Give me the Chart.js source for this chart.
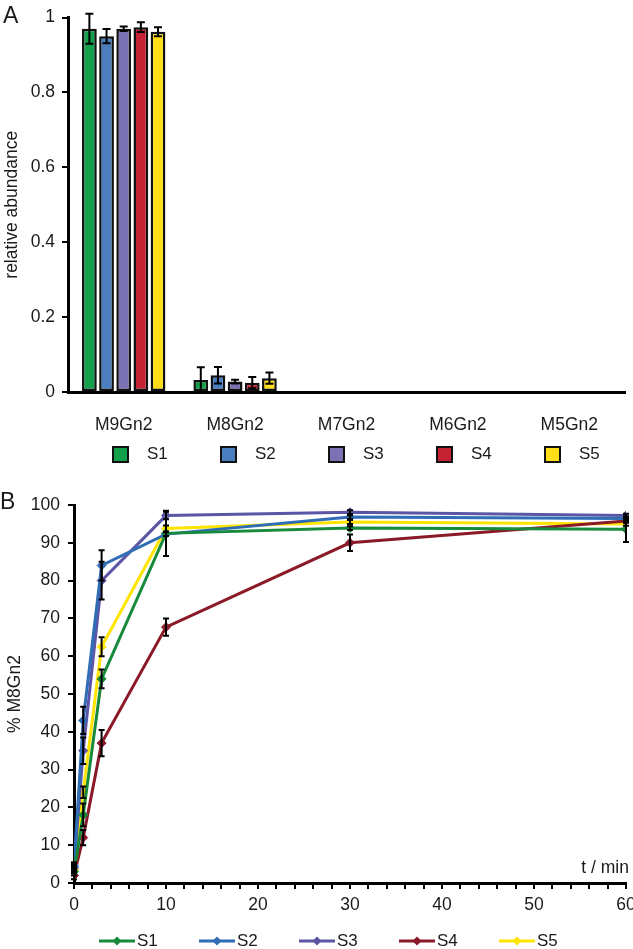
<!DOCTYPE html>
<html><head><meta charset="utf-8">
<script src="https://cdn.jsdelivr.net/npm/chart.js@4.4.1/dist/chart.umd.min.js"></script>
<style>
html,body{margin:0;padding:0;background:#fff;}
body{width:633px;height:949px;position:relative;overflow:hidden;font-family:"Liberation Sans",Arial,sans-serif;color:#1a1a1a;}
canvas{position:absolute;left:0;}
#ca{top:0;}
#cb{top:475px;}
.lbl{position:absolute;font-size:23px;line-height:1;}
.leg{position:absolute;display:flex;align-items:center;font-size:17px;line-height:20px;}
.leg .it{display:flex;align-items:center;}
</style></head>
<body>
<canvas id="ca" width="633" height="475"></canvas>
<canvas id="cb" width="633" height="474"></canvas>
<div class="lbl" style="left:3px;top:4px;">A</div>
<div class="lbl" style="left:0px;top:490px;">B</div>
<div id="legA" class="leg" style="left:112px;top:444px;"></div>
<div id="legB" class="leg" style="left:99px;top:931px;"></div>
<div id="tmin" style="position:absolute;right:4px;top:857px;font-size:17.5px;">t / min</div>
<script>
// ---------- data ----------
const seriesNames = ['S1', 'S2', 'S3', 'S4', 'S5'];
const glycans = ['M9Gn2', 'M8Gn2', 'M7Gn2', 'M6Gn2', 'M5Gn2'];
const yTicksA = [0, 0.2, 0.4, 0.6, 0.8, 1];
const yTickLabelsA = ['0', '0.2', '0.4', '0.6', '0.8', '1'];

const abundS1 = [0.970, 0.032, 0, 0, 0];
const abundS2 = [0.950, 0.045, 0, 0, 0];
const abundS3 = [0.970, 0.028, 0, 0, 0];
const abundS4 = [0.974, 0.025, 0, 0, 0];
const abundS5 = [0.962, 0.037, 0, 0, 0];
const abundErrS1 = [0.040, 0.034, 0, 0, 0];
const abundErrS2 = [0.019, 0.022, 0, 0, 0];
const abundErrS3 = [0.006, 0.005, 0, 0, 0];
const abundErrS4 = [0.013, 0.015, 0, 0, 0];
const abundErrS5 = [0.012, 0.015, 0, 0, 0];

const times = [0, 1, 3, 10, 30, 60];
const pctS1 = [3.0, 18, 54, 92.5, 93.9, 93.6];
const pctS2 = [4.5, 43, 84, 92.3, 96.8, 96.4];
const pctS3 = [4.0, 35, 80, 97.2, 98.1, 97.2];
const pctS4 = [2.0, 12, 37, 67.7, 90.0, 95.8];
const pctS5 = [3.5, 24, 62.5, 93.8, 95.5, 95.0];
const pctErrS1 = [1, 3, 2.5, 6, 0.5, 3.4];
const pctErrS2 = [1, 3.6, 4, 0.5, 0.5, 0.5];
const pctErrS3 = [1, 3.5, 5, 1, 0.5, 0.5];
const pctErrS4 = [1, 2, 3.5, 2.3, 2.2, 0.5];
const pctErrS5 = [1, 1.5, 2.5, 0.8, 0.5, 0.5];

// ---------- styles ----------
const barColors = ['#12a04b', '#4a7ebf', '#7a72b3', '#c52233', '#ffde17'];
const lineColors = ['#178a3c', '#2f6db5', '#5b55a6', '#8b1a28', '#ffe400'];
const FONT = {family: '"Liberation Sans", Arial, sans-serif', size: 17.5};
const TXT = '#1a1a1a';

const errorBars = {
  id: 'errorBars',
  afterDatasetsDraw(chart, args, opts) {
    const ctx = chart.ctx;
    const ys = chart.scales.y;
    ctx.save();
    ctx.strokeStyle = '#000';
    ctx.lineWidth = opts.width || 2;
    chart.data.datasets.forEach((ds, di) => {
      if (!ds.errors) return;
      const meta = chart.getDatasetMeta(di);
      meta.data.forEach((el, i) => {
        const e = ds.errors[i];
        if (!e) return;
        const d = ds.data[i];
        const v = (typeof d === 'object') ? d.y : d;
        const top = ys.getPixelForValue(Math.min(v + e, ys.max + (opts.over || 0)));
        const bot = ys.getPixelForValue(Math.max(v - e, ys.min));
        const c = opts.cap || 4;
        ctx.beginPath();
        ctx.moveTo(el.x, top); ctx.lineTo(el.x, bot);
        ctx.moveTo(el.x - c, top); ctx.lineTo(el.x + c, top);
        ctx.moveTo(el.x - c, bot); ctx.lineTo(el.x + c, bot);
        ctx.stroke();
      });
    });
    ctx.restore();
  }
};

// ---------- chart A ----------
const abund = [abundS1, abundS2, abundS3, abundS4, abundS5];
const abundErr = [abundErrS1, abundErrS2, abundErrS3, abundErrS4, abundErrS5];
const chartA = new Chart(document.getElementById('ca'), {
  type: 'bar',
  data: {
    labels: glycans,
    datasets: seriesNames.map((n, i) => ({
      label: n, data: abund[i], errors: abundErr[i],
      backgroundColor: barColors[i], borderColor: '#111', borderWidth: 2.5,
      borderSkipped: false, barPercentage: 0.86, categoryPercentage: 0.77
    }))
  },
  plugins: [errorBars],
  options: {
    responsive: false, animation: false,
    layout: {padding: {left: 0, right: 8, top: 12, bottom: 0}},
    plugins: {legend: {display: false}, tooltip: {enabled: false}, errorBars: {cap: 4, width: 2, over: 0.02}},
    scales: {
      x: {
        grid: {display: false},
        border: {display: true, color: '#000', width: 3},
        ticks: {color: TXT, font: FONT, padding: 15},
        afterFit(s) { s.height = 83; }
      },
      y: {
        min: 0, max: 1,
        afterBuildTicks(s) { s.ticks = yTicksA.map(v => ({value: v})); },
        ticks: {color: TXT, font: FONT, padding: 7,
          callback: (v, i) => yTickLabelsA[i]},
        grid: {drawOnChartArea: false, drawTicks: true, tickLength: 6, color: '#000', lineWidth: 2},
        border: {display: true, color: '#000', width: 3},
        title: {display: true, text: 'relative abundance', color: TXT, font: FONT, padding: {top: 2, bottom: 0}},
        afterFit(s) { s.width = 68; }
      }
    }
  }
});

// ---------- chart B ----------
const pct = [pctS1, pctS2, pctS3, pctS4, pctS5];
const pctErr = [pctErrS1, pctErrS2, pctErrS3, pctErrS4, pctErrS5];
const chartB = new Chart(document.getElementById('cb'), {
  type: 'line',
  data: {
    datasets: seriesNames.map((n, i) => ({
      label: n,
      data: times.map((t, j) => ({x: t, y: pct[i][j]})),
      errors: pctErr[i],
      borderColor: lineColors[i], backgroundColor: lineColors[i],
      borderWidth: 3, pointStyle: 'rectRot', pointRadius: 4.5, pointBorderWidth: 1,
      pointBorderColor: lineColors[i], tension: 0, fill: false
    }))
  },
  plugins: [errorBars],
  options: {
    responsive: false, animation: false,
    layout: {padding: {left: 0, right: 7, top: 30, bottom: 0}},
    plugins: {legend: {display: false}, tooltip: {enabled: false}, errorBars: {cap: 3, width: 2, over: 2}},
    scales: {
      x: {
        type: 'linear', min: 0, max: 60,
        ticks: {stepSize: 2, autoSkip: false, maxRotation: 0, minRotation: 0,
          callback: v => (v % 10 === 0 ? String(v) : ''), color: TXT, font: FONT, padding: 6},
        grid: {drawOnChartArea: false, drawTicks: true, tickLength: 6, color: '#000', lineWidth: 2},
        border: {display: true, color: '#000', width: 3},
        afterFit(s) { s.height = 66; s.paddingRight = 0; s.paddingLeft = 0; }
      },
      y: {
        min: 0, max: 100,
        ticks: {stepSize: 10, color: TXT, font: FONT, padding: 8},
        grid: {drawOnChartArea: false, drawTicks: true, tickLength: 6, color: '#000', lineWidth: 2},
        border: {display: true, color: '#000', width: 3},
        title: {display: true, text: '% M8Gn2', color: TXT, font: FONT, padding: {top: 5, bottom: 0}},
        afterFit(s) { s.width = 74; }
      }
    }
  }
});

// ---------- legends (built from the chart datasets) ----------
const legA = document.getElementById('legA');
chartA.data.datasets.forEach(ds => {
  const it = document.createElement('div');
  it.className = 'it'; it.style.width = '108px';
  const sw = document.createElement('span');
  sw.style.cssText = 'display:inline-block;width:13px;height:13px;border:2.5px solid #111;background:' + ds.backgroundColor;
  const tx = document.createElement('span');
  tx.style.marginLeft = '18px'; tx.textContent = ds.label;
  it.appendChild(sw); it.appendChild(tx); legA.appendChild(it);
});
const legB = document.getElementById('legB');
chartB.data.datasets.forEach(ds => {
  const it = document.createElement('div');
  it.className = 'it'; it.style.width = '100px';
  const c = ds.borderColor;
  it.innerHTML = '<svg width="36" height="12" viewBox="0 0 36 12"><line x1="0" y1="6" x2="36" y2="6" stroke="' + c +
    '" stroke-width="3"/><polygon points="18,1.5 22.5,6 18,10.5 13.5,6" fill="' + c + '"/></svg>' +
    '<span style="margin-left:2px">' + ds.label + '</span>';
  legB.appendChild(it);
});
</script>
</body></html>
